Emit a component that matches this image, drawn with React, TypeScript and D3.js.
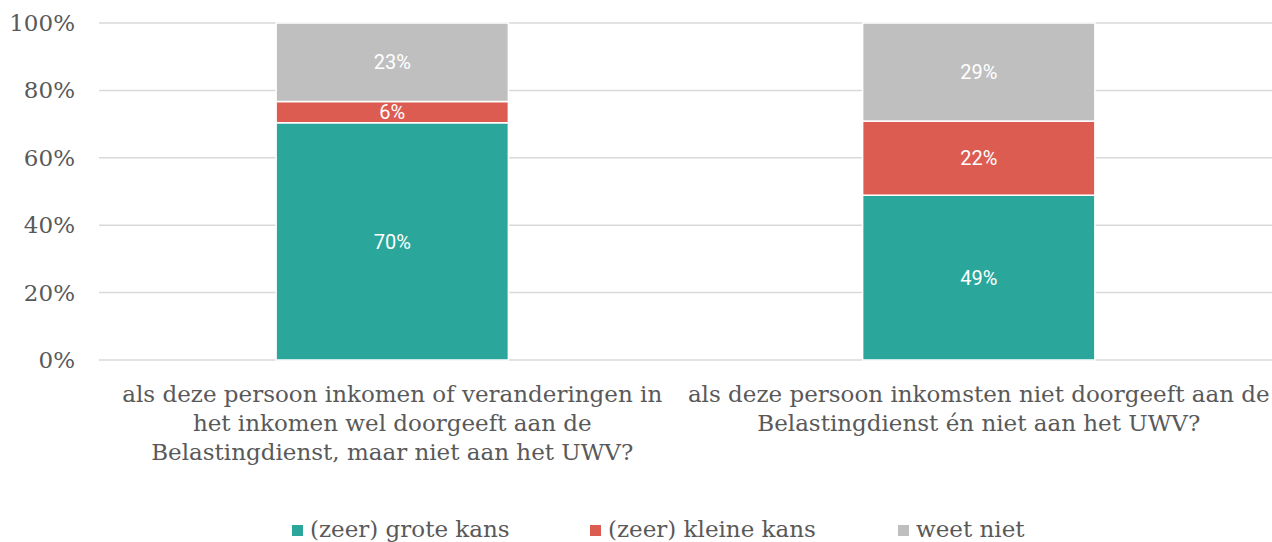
import React from 'react';
import * as d3 from 'd3';

const categories = ['inkomen wel doorgeeft aan Belastingdienst', 'inkomsten niet doorgeeft'];
const categoryLines = [
  ['als deze persoon inkomen of veranderingen in', 'het inkomen wel doorgeeft aan de', 'Belastingdienst, maar niet aan het UWV?'],
  ['als deze persoon inkomsten niet doorgeeft aan de', 'Belastingdienst én niet aan het UWV?'],
];
const seriesNames = ['(zeer) grote kans', '(zeer) kleine kans', 'weet niet'];
const groteKans = [70.4, 48.9];
const kleineKans = [6.3, 22.0];
const weetNiet = [23.3, 29.1];
const yTicks = [0, 20, 40, 60, 80, 100];

const colors = ['#2AA69A', '#DD5C52', '#BFBFBF'];
const W = 1272;
const H = 542;

export default function App() {
  const x = d3.scaleBand<string>().domain(categories).range([99, W]).paddingInner(0.604).paddingOuter(0.302);
  const y = d3.scaleLinear().domain([0, 100]).range([360, 23]);
  const seriesValues = [groteKans, kleineKans, weetNiet];
  const table = categories.map((c, i) => {
    const row: any = { cat: c };
    seriesNames.forEach((s, k) => (row[s] = seriesValues[k][i]));
    return row;
  });
  const stacked = d3.stack<any>().keys(seriesNames)(table);
  const legendX = d3.scaleOrdinal<string, number>().domain(seriesNames).range([292, 590, 898]);
  const serif = '"DejaVu Serif", serif';
  const textColor = '#595959';

  return (
    <div style={{ position: 'absolute', left: 0, top: 0 }}>
      <svg width={W} height={H} style={{ display: 'block', background: '#fff' }}>
        {yTicks.map((t) => (
          <g key={t}>
            <line x1={99} x2={W} y1={y(t)} y2={y(t)} stroke="#D9D9D9" strokeWidth={1.5} />
            <text x={75} y={y(t)} dy="0.35em" textAnchor="end" fontFamily={serif} fontSize={23} fill={textColor}>
              {t}%
            </text>
          </g>
        ))}
        {stacked.map((layer, k) => (
          <g key={layer.key} fill={colors[k]}>
            {layer.map((d, i) => {
              const x0 = x(categories[i])!;
              const y0 = y(d[1]);
              const y1 = y(d[0]);
              return (
                <g key={i}>
                  <rect x={x0} y={y0} width={x.bandwidth()} height={y1 - y0} stroke="#fff" strokeWidth={1.5} />
                  <text
                    x={x0 + x.bandwidth() / 2}
                    y={(y0 + y1) / 2}
                    dy="0.36em"
                    textAnchor="middle"
                    fontFamily="Roboto, sans-serif"
                    fontSize={20}
                    fill="#fff"
                  >
                    {Math.round(d[1] - d[0])}%
                  </text>
                </g>
              );
            })}
          </g>
        ))}
        {categories.map((c, i) => (
          <text key={c} textAnchor="middle" fontFamily={serif} fontSize={23} fill={textColor}>
            {categoryLines[i].map((line, j) => (
              <tspan key={j} x={x(c)! + x.bandwidth() / 2} y={401.5 + j * 29}>
                {line}
              </tspan>
            ))}
          </text>
        ))}
        {seriesNames.map((s, k) => (
          <g key={s}>
            <rect x={legendX(s)} y={525} width={11} height={11} fill={colors[k]} />
            <text x={legendX(s) + 18} y={537} fontFamily={serif} fontSize={23} fill={textColor}>
              {s}
            </text>
          </g>
        ))}
      </svg>
    </div>
  );
}
